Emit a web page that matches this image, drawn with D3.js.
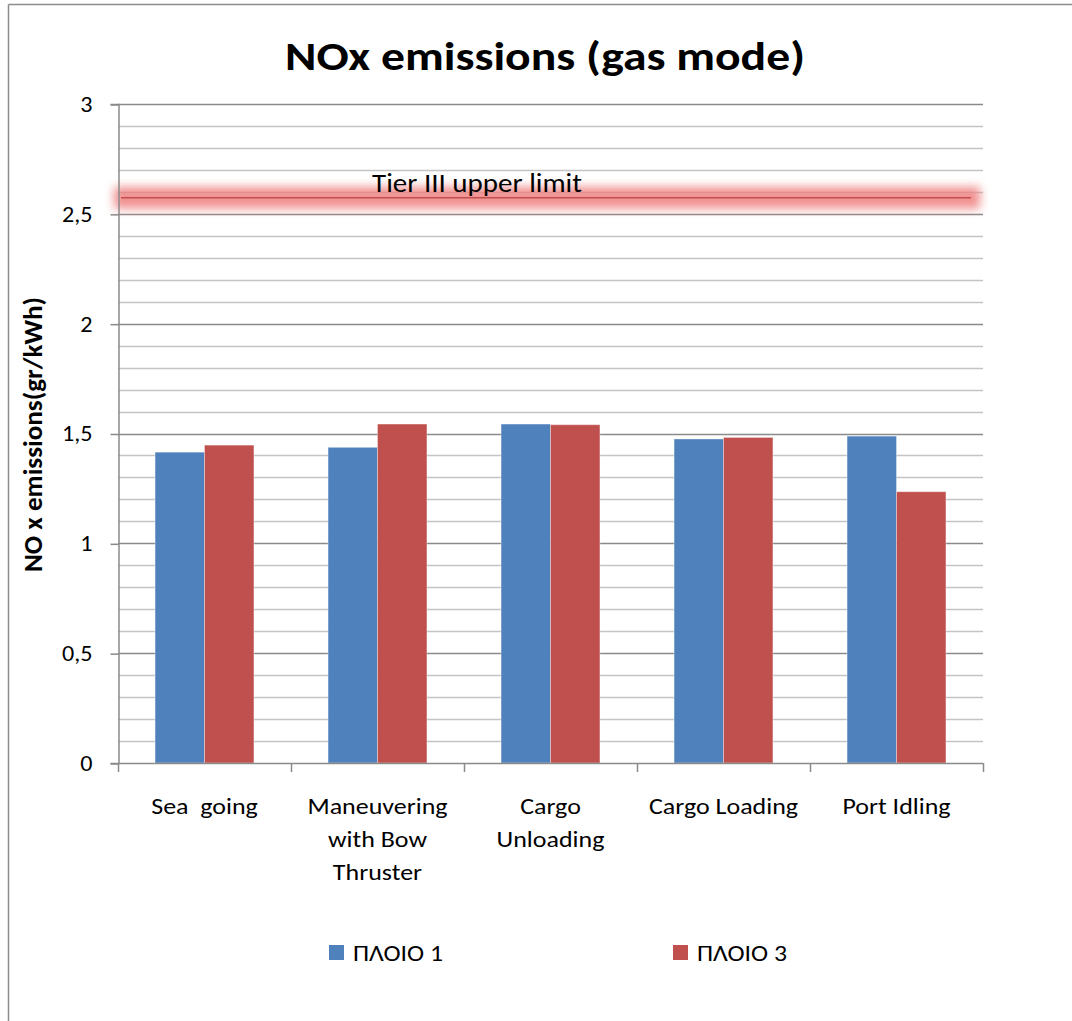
<!DOCTYPE html>
<html>
<head>
<meta charset="utf-8">
<script src="https://cdn.jsdelivr.net/npm/d3@7"></script>
<style>
  html, body { margin: 0; padding: 0; background: #fff; }
  svg { display: block; }
  text { font-family: Carlito, Lato, "Open Sans", sans-serif; fill: #000; }
</style>
</head>
<body>
<svg id="chart" width="1072" height="1021"></svg>
<script>
// Operating modes (x categories); "\n" marks a line break in the axis label
const categories = ["Sea  going", "Maneuvering\nwith Bow\nThruster", "Cargo\nUnloading", "Cargo Loading", "Port Idling"];
const seriesNames = ["ΠΛΟΙΟ 1", "ΠΛΟΙΟ 3"];
// NOx emissions per mode, gr/kWh
const ploio1 = [1.415, 1.437, 1.543, 1.475, 1.488];
const ploio3 = [1.447, 1.543, 1.540, 1.482, 1.235];
const tierLimit = 2.573;
const tierLabel = "Tier III upper limit";
const yMajorTicks = [0, 0.5, 1, 1.5, 2, 2.5, 3];
const seriesColors = ["#4f81bd", "#c0504d"];

const svg = d3.select("#chart");
const W = 1072, H = 1021;
const plot = { left: 118, right: 983, top: 104, bottom: 763 };

// Widen glyphs horizontally so the text keeps the chart's wide typeface proportions
function widen(sel, k) {
  sel.each(function () {
    const len = this.getComputedTextLength();
    d3.select(this).attr("textLength", len * k).attr("lengthAdjust", "spacingAndGlyphs");
  });
}
function fitTo(sel, width) {
  sel.attr("textLength", width).attr("lengthAdjust", "spacingAndGlyphs");
}

const x = d3.scaleBand().domain(categories).range([plot.left, plot.right]).padding(0);
const xInner = d3.scaleBand().domain(seriesNames).range([0, x.bandwidth()])
  .paddingInner(0).paddingOuter(0.75);
const y = d3.scaleLinear().domain([0, 3]).range([plot.bottom, plot.top]);

// Outer chart frame (top and left edges)
svg.append("line").attr("x1", 8.5).attr("x2", W).attr("y1", 4.5).attr("y2", 4.5)
  .attr("stroke", "#8c8c8c").attr("stroke-width", 1.5);
svg.append("line").attr("x1", 8.5).attr("x2", 8.5).attr("y1", 4.5).attr("y2", H)
  .attr("stroke", "#8c8c8c").attr("stroke-width", 1.5);

// Gridlines: minor every 0.1, major every 0.5
const minor = y.ticks(30).filter(v => !yMajorTicks.some(m => Math.abs(m - v) < 1e-6));
svg.append("g").selectAll("line").data(minor).join("line")
  .attr("x1", plot.left).attr("x2", plot.right)
  .attr("y1", d => Math.round(y(d)) + 0.5).attr("y2", d => Math.round(y(d)) + 0.5)
  .attr("stroke", "#c4c4c4").attr("stroke-width", 1.5);
svg.append("g").selectAll("line").data(yMajorTicks.filter(v => v > 0)).join("line")
  .attr("x1", plot.left).attr("x2", plot.right)
  .attr("y1", d => Math.round(y(d)) + 0.5).attr("y2", d => Math.round(y(d)) + 0.5)
  .attr("stroke", "#8a8a8a").attr("stroke-width", 1.5);

// Soft glow behind the Tier III limit line
const defs = svg.append("defs");
defs.append("filter").attr("id", "glow")
  .attr("filterUnits", "userSpaceOnUse")
  .attr("x", 0).attr("y", 0).attr("width", W).attr("height", H)
  .append("feGaussianBlur").attr("stdDeviation", 5);
svg.append("rect")
  .attr("x", 114).attr("width", 866)
  .attr("y", y(tierLimit) - 11).attr("height", 22)
  .attr("fill", "#ef7f7f").attr("opacity", 0.85)
  .attr("filter", "url(#glow)");

// Bars
const rows = categories.map((c, i) => ({ cat: c, values: [ploio1[i], ploio3[i]] }));
const groups = svg.append("g").selectAll("g").data(rows).join("g")
  .attr("transform", d => `translate(${x(d.cat)},0)`);
groups.selectAll("rect")
  .data(d => d.values.map((v, j) => ({ name: seriesNames[j], v, j })))
  .join("rect")
  .attr("x", d => xInner(d.name))
  .attr("width", xInner.bandwidth())
  .attr("y", d => y(d.v))
  .attr("height", d => y(0) - y(d.v))
  .attr("fill", d => seriesColors[d.j])
  .attr("stroke", "rgba(255,255,255,0.35)").attr("stroke-width", 1);

// Tier III limit line and its label
svg.append("line")
  .attr("x1", 121).attr("x2", 971)
  .attr("y1", y(tierLimit)).attr("y2", y(tierLimit))
  .attr("stroke", "#c0504d").attr("stroke-width", 1.5);
svg.append("text")
  .attr("x", 477).attr("y", y(tierLimit) - 6)
  .attr("text-anchor", "middle")
  .attr("font-size", 26).attr("fill", "#1a1a1a")
  .text(tierLabel)
  .call(fitTo, 210);

// Y axis
const yAxis = d3.axisLeft(y).tickValues(yMajorTicks).tickSize(8).tickPadding(18)
  .tickFormat(d => String(d).replace(".", ","));
const gy = svg.append("g").attr("transform", `translate(${plot.left + 0.5},0)`).call(yAxis);
gy.select(".domain").attr("stroke", "#8a8a8a").attr("stroke-width", 1.5);
gy.selectAll(".tick line").attr("stroke", "#8a8a8a").attr("stroke-width", 1.5)
  .attr("transform", "translate(0,0.5)");
gy.selectAll(".tick text").attr("font-size", 23).attr("font-family", "Carlito, Lato, sans-serif")
  .attr("fill", "#000").call(widen, 1.05);

// X axis: ticks at category boundaries
const bounds = categories.map(c => x(c)).concat([plot.right]);
const gx = svg.append("g");
gx.append("line").attr("x1", plot.left).attr("x2", plot.right)
  .attr("y1", plot.bottom + 0.5).attr("y2", plot.bottom + 0.5)
  .attr("stroke", "#8a8a8a").attr("stroke-width", 1.5);
gx.selectAll("line.t").data(bounds).join("line").attr("class", "t")
  .attr("x1", d => d + 0.5).attr("x2", d => d + 0.5)
  .attr("y1", plot.bottom).attr("y2", plot.bottom + 9)
  .attr("stroke", "#8a8a8a").attr("stroke-width", 1.5);
const xl = svg.append("g").selectAll("text").data(categories).join("text")
  .attr("x", d => x(d) + x.bandwidth() / 2)
  .attr("y", plot.bottom + 51)
  .attr("text-anchor", "middle")
  .attr("font-size", 22)
  .style("white-space", "pre");
xl.each(function (d) {
  const t = d3.select(this);
  d.split("\n").forEach((line, i) => {
    t.append("tspan").attr("x", x(d) + x.bandwidth() / 2).attr("dy", i === 0 ? 0 : 33)
      .attr("xml:space", "preserve").text(line);
  });
});
xl.selectAll("tspan").call(widen, 1.18);

// Y axis title
svg.append("text")
  .attr("transform", "translate(42,434.5) rotate(-90)")
  .attr("text-anchor", "middle")
  .attr("font-size", 26).attr("font-weight", "bold")
  .text("NO x emissions(gr/kWh)")
  .call(fitTo, 275);

// Chart title
svg.append("text")
  .attr("x", 545).attr("y", 70)
  .attr("text-anchor", "middle")
  .attr("font-size", 40).attr("font-weight", "bold")
  .text("NOx emissions (gas mode)")
  .call(fitTo, 520);

// Legend
const legendX = [329, 673];
const lg = svg.append("g").selectAll("g").data(seriesNames).join("g")
  .attr("transform", (d, i) => `translate(${legendX[i]},945)`);
lg.append("rect").attr("width", 15).attr("height", 15).attr("fill", (d, i) => seriesColors[i]);
lg.append("text").attr("x", 24).attr("y", 15.5).attr("font-size", 22).text(d => d)
  .call(fitTo, 90);
</script>
</body>
</html>
